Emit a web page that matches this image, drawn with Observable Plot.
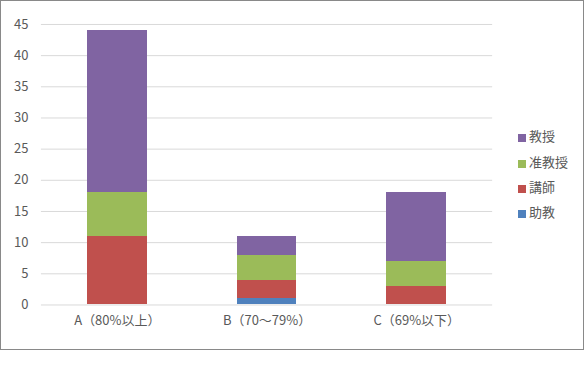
<!DOCTYPE html>
<html><head><meta charset="utf-8">
<script src="https://cdn.jsdelivr.net/npm/d3@7"></script>
<script src="https://cdn.jsdelivr.net/npm/@observablehq/plot@0.6"></script>
<style>
body{margin:0;background:#fff;font-family:"Noto Sans CJK JP","Noto Sans",sans-serif;}
#frame{position:absolute;left:0;top:0;width:582px;height:348px;border:1px solid #898989;overflow:hidden;}
#chart{position:absolute;left:-1px;top:-1px;}
.leg{position:absolute;left:517px;font-size:13px;color:#595959;line-height:16px;white-space:nowrap;}
.leg span{display:inline-block;width:8px;height:8px;margin-right:3px;vertical-align:-1px;}
</style></head>
<body>
<div id="frame"><div id="chart"></div></div>
<script>
const categories = ["A（80%以上）", "B（70～79%）", "C（69%以下）"];
const seriesNames = ["助教", "講師", "准教授", "教授"];
const seriesColors = ["#4F81BD", "#C0504D", "#9BBB59", "#8064A2"];
const jokyo = [0, 1, 0];
const koshi = [11, 3, 3];
const junkyoju = [7, 4, 4];
const kyoju = [26, 3, 11];
const yTicks = [0, 5, 10, 15, 20, 25, 30, 35, 40, 45];

const valuesBySeries = [jokyo, koshi, junkyoju, kyoju];
const rows = [];
seriesNames.forEach((s, i) => categories.forEach((c, j) => {
  rows.push({category: c, series: s, value: valuesBySeries[i][j]});
}));

const plot = Plot.plot({
  width: 584, height: 350,
  marginLeft: 41, marginRight: 91, marginTop: 24, marginBottom: 45,
  style: {fontFamily: '"Noto Sans CJK JP", sans-serif', fontSize: "13px", color: "#595959", background: "transparent"},
  x: {domain: categories, paddingInner: 0.6, paddingOuter: 0.3, align: 0.5, label: null, tickSize: 0, tickPadding: 11},
  y: {domain: [0, 45], ticks: yTicks, label: null, tickSize: 0, tickPadding: 13},
  color: {domain: seriesNames, range: seriesColors},
  marks: [
    Plot.gridY(yTicks, {stroke: "#d9d9d9", strokeOpacity: 1}),
    Plot.barY(rows.filter(d => d.value > 0), Plot.stackY({x: "category", y: "value", z: "series", fill: "series", shapeRendering: "crispEdges"}))
  ]
});
document.getElementById("chart").appendChild(plot);

const frame = document.getElementById("frame");
const legTops = [127, 153, 178, 203];
seriesNames.slice().reverse().forEach((s, k) => {
  const d = document.createElement("div");
  d.className = "leg";
  d.style.top = legTops[k] + "px";
  const idx = seriesNames.indexOf(s);
  d.innerHTML = `<span style="background:${seriesColors[idx]}"></span>${s}`;
  frame.appendChild(d);
});
</script>
</body></html>
